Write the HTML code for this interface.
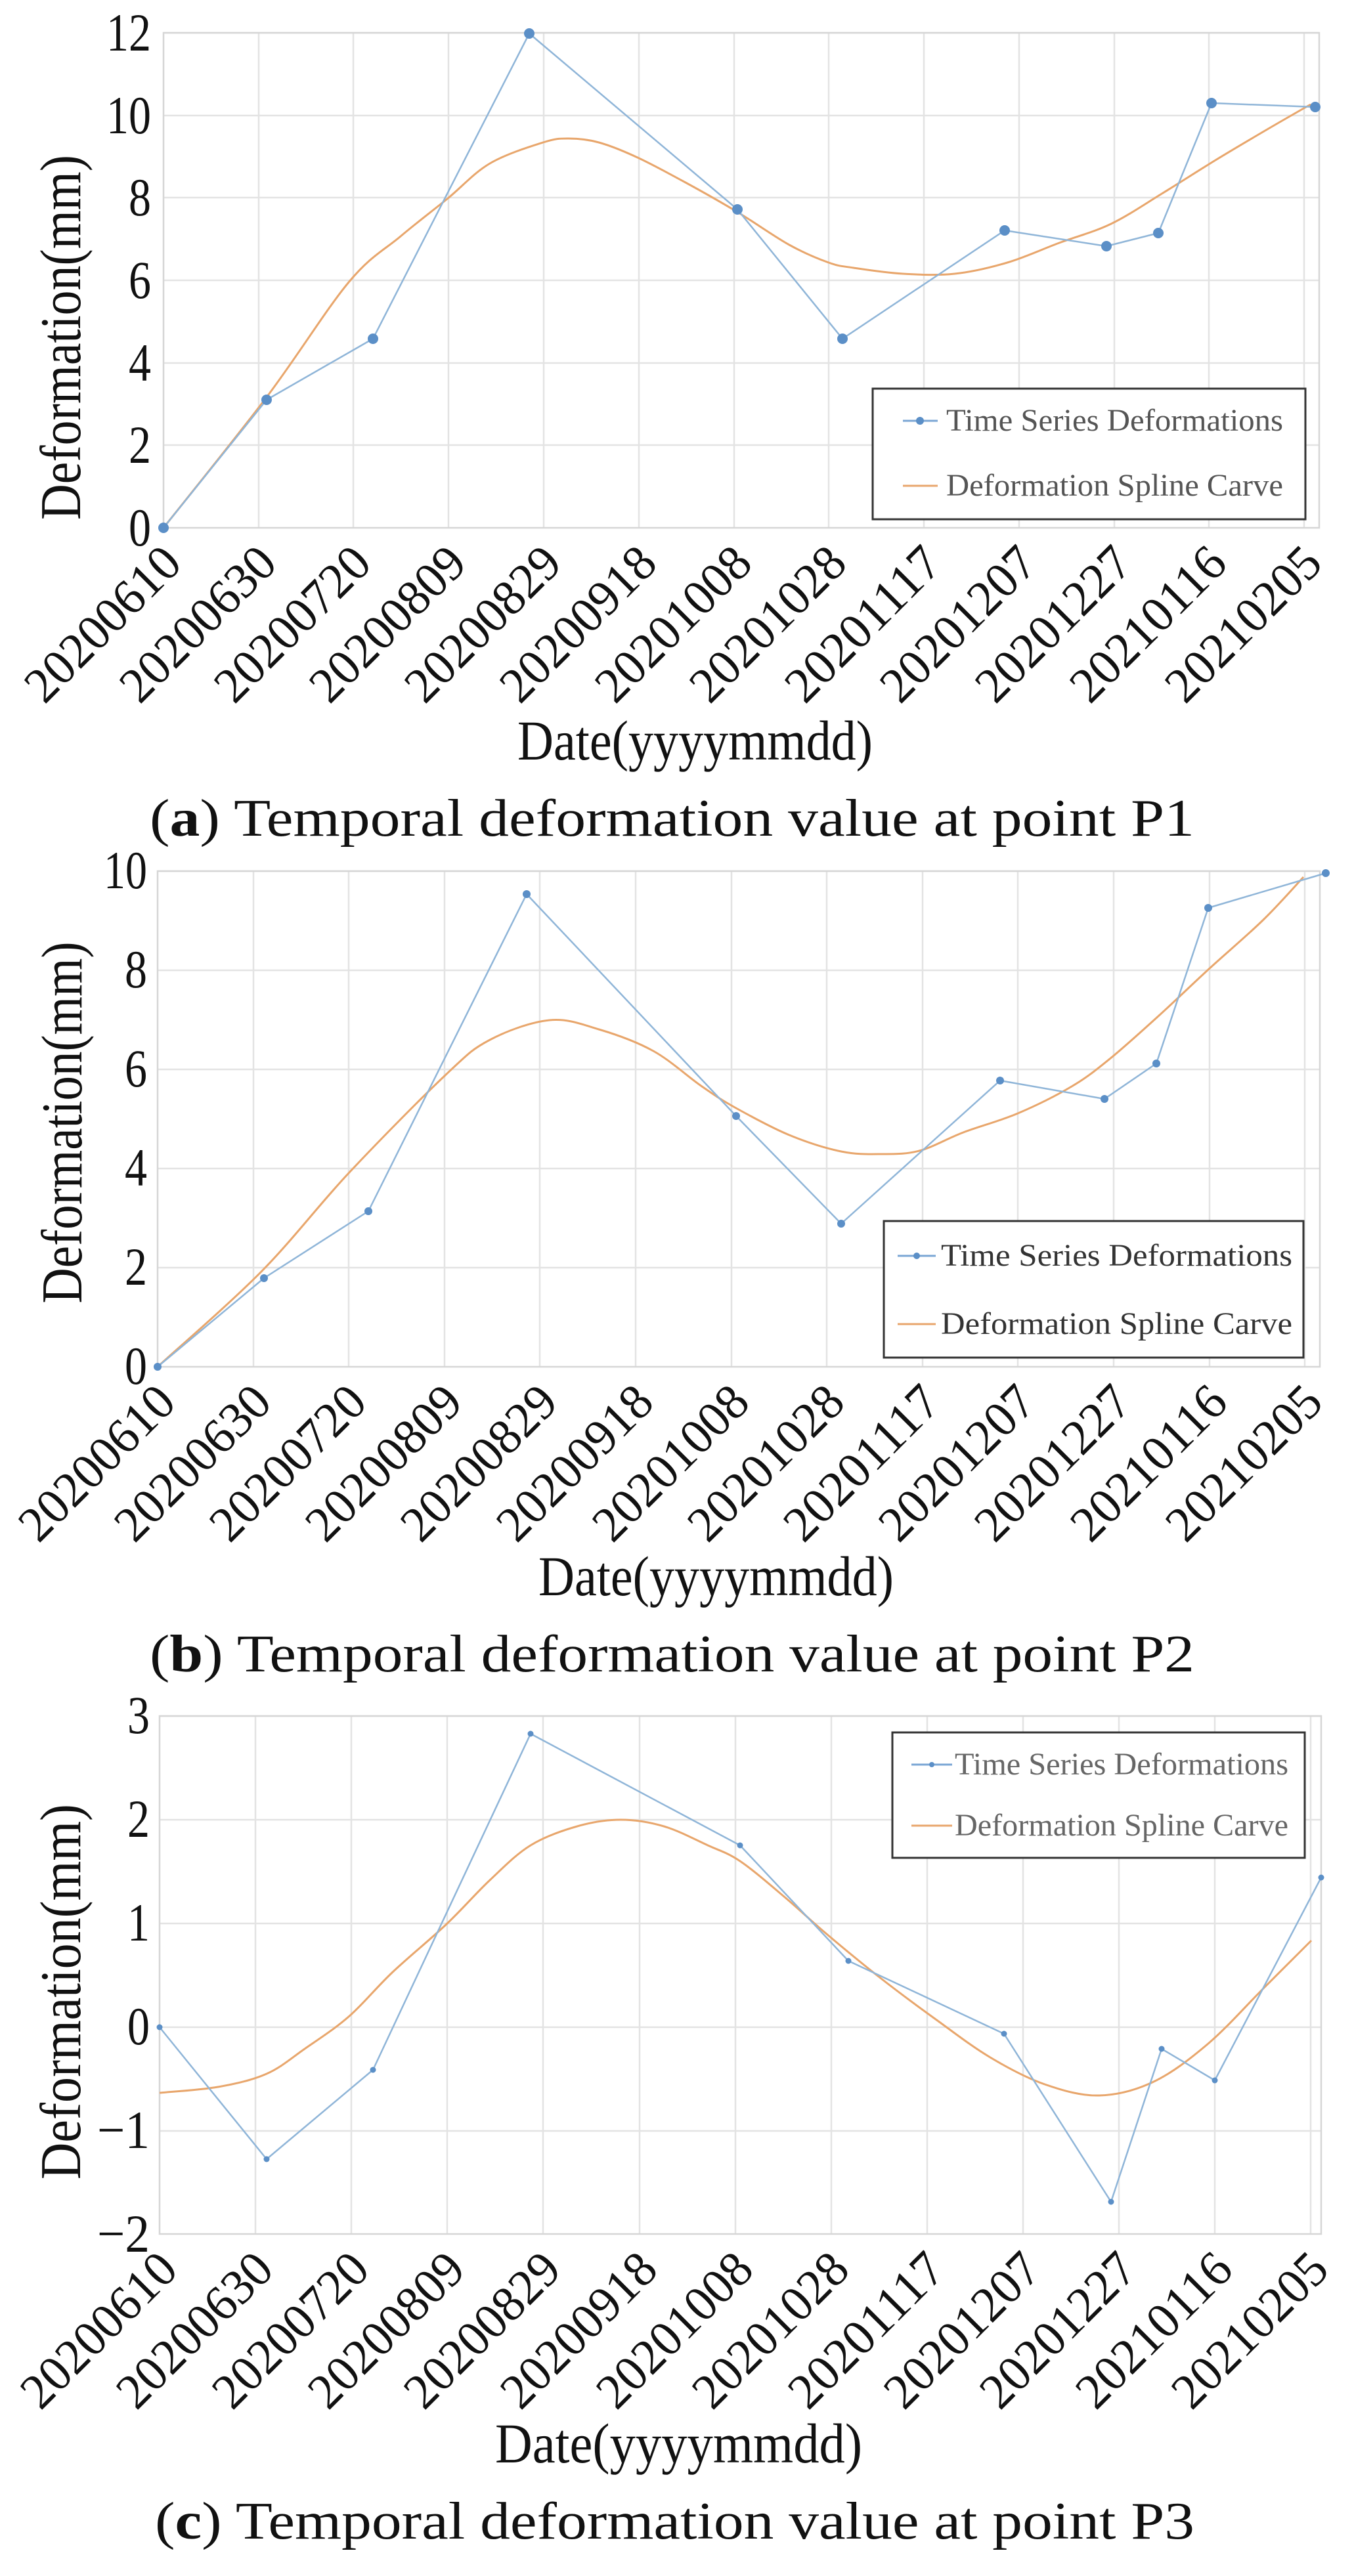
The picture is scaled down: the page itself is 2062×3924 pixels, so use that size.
<!DOCTYPE html>
<html><head><meta charset="utf-8"><style>
html,body{margin:0;padding:0;background:#fff;}
svg{display:block;}
text{font-family:"Liberation Serif",serif;fill:#111;}
.g{stroke:#e3e3e3;stroke-width:2.5;fill:none;}
.b{stroke:#d6d6d6;stroke-width:2.5;fill:none;}
.ts{stroke:#8fb5d8;stroke-width:2.5;fill:none;stroke-linejoin:round;}
.sp{stroke:#e8a66c;stroke-width:3;fill:none;stroke-linejoin:round;}
.m{fill:#5b8fc7;}
.yl{font-size:82px;text-anchor:end;}
.xl{font-size:76px;text-anchor:end;}
.lg{font-size:48px;fill:#555;}
</style></head><body>
<svg width="2062" height="3924" viewBox="0 0 2062 3924" xmlns="http://www.w3.org/2000/svg">

<!-- ===== Chart A ===== -->
<g>
<path class="g" d="M249 678H2009M249 553H2009M249 427H2009M249 301H2009M249 176H2009M249 50H2009"/>
<path class="g" d="M394 50V804M538 50V804M683 50V804M828 50V804M973 50V804M1118 50V804M1262 50V804M1407 50V804M1552 50V804M1697 50V804M1841 50V804M1986 50V804"/>
<rect class="b" x="249" y="50" width="1760" height="754"/>
<path class="sp" d="M249 804 L406 605 L531 430 L610 360 L681 303 L746 249 L827 217 L866 211 L912 217 L971 240 L1044 278 L1123 323 L1202 373 L1262 400 L1300 408 L1375 417 L1454 417 L1534 400 L1613 370 L1692 341 L1771 294 L1851 244 L1930 197 L1996 159"/>
<polyline class="ts" points="249,804 406,609 568,516 806,51 1123,319 1283,516 1530,351 1685,375 1764,355 1845,157 2003,163"/>
<g class="m"><circle cx="249" cy="804" r="8"/><circle cx="406" cy="609" r="8"/><circle cx="568" cy="516" r="8"/><circle cx="806" cy="51" r="8"/><circle cx="1123" cy="319" r="8"/><circle cx="1283" cy="516" r="8"/><circle cx="1530" cy="351" r="8"/><circle cx="1685" cy="375" r="8"/><circle cx="1764" cy="355" r="8"/><circle cx="1845" cy="157" r="8"/><circle cx="2003" cy="163" r="8"/></g>
<rect x="1329" y="592" width="659" height="199" fill="#fff" stroke="#333" stroke-width="3"/>
<line x1="1375" y1="641" x2="1428" y2="641" stroke="#7aa6d4" stroke-width="3"/><circle cx="1401" cy="641" r="6" class="m"/>
<line x1="1375" y1="740" x2="1428" y2="740" stroke="#e8a66c" stroke-width="3"/>
<text class="lg" x="1441" y="656" textLength="513" lengthAdjust="spacingAndGlyphs">Time Series Deformations</text>
<text class="lg" x="1441" y="755" textLength="513" lengthAdjust="spacingAndGlyphs">Deformation Spline Carve</text>
<text class="yl" x="230" y="831" textLength="34" lengthAdjust="spacingAndGlyphs">0</text>
<text class="yl" x="230" y="705" textLength="34" lengthAdjust="spacingAndGlyphs">2</text>
<text class="yl" x="230" y="580" textLength="34" lengthAdjust="spacingAndGlyphs">4</text>
<text class="yl" x="230" y="454" textLength="34" lengthAdjust="spacingAndGlyphs">6</text>
<text class="yl" x="230" y="328" textLength="34" lengthAdjust="spacingAndGlyphs">8</text>
<text class="yl" x="230" y="203" textLength="68" lengthAdjust="spacingAndGlyphs">10</text>
<text class="yl" x="230" y="77" textLength="68" lengthAdjust="spacingAndGlyphs">12</text>
<text x="122" y="514" transform="rotate(-90 122 514)" text-anchor="middle" font-size="88" textLength="556" lengthAdjust="spacingAndGlyphs">Deformation(mm)</text>
<g class="xl">
<text transform="translate(280,862) rotate(-45)" textLength="300" lengthAdjust="spacingAndGlyphs">20200610</text>
<text transform="translate(425,862) rotate(-45)" textLength="300" lengthAdjust="spacingAndGlyphs">20200630</text>
<text transform="translate(569,862) rotate(-45)" textLength="300" lengthAdjust="spacingAndGlyphs">20200720</text>
<text transform="translate(714,862) rotate(-45)" textLength="300" lengthAdjust="spacingAndGlyphs">20200809</text>
<text transform="translate(859,862) rotate(-45)" textLength="300" lengthAdjust="spacingAndGlyphs">20200829</text>
<text transform="translate(1004,862) rotate(-45)" textLength="300" lengthAdjust="spacingAndGlyphs">20200918</text>
<text transform="translate(1149,862) rotate(-45)" textLength="300" lengthAdjust="spacingAndGlyphs">20201008</text>
<text transform="translate(1293,862) rotate(-45)" textLength="300" lengthAdjust="spacingAndGlyphs">20201028</text>
<text transform="translate(1438,862) rotate(-45)" textLength="300" lengthAdjust="spacingAndGlyphs">20201117</text>
<text transform="translate(1583,862) rotate(-45)" textLength="300" lengthAdjust="spacingAndGlyphs">20201207</text>
<text transform="translate(1728,862) rotate(-45)" textLength="300" lengthAdjust="spacingAndGlyphs">20201227</text>
<text transform="translate(1872,862) rotate(-45)" textLength="300" lengthAdjust="spacingAndGlyphs">20210116</text>
<text transform="translate(2017,862) rotate(-45)" textLength="300" lengthAdjust="spacingAndGlyphs">20210205</text>
</g>
<text x="788" y="1157" font-size="86" textLength="541" lengthAdjust="spacingAndGlyphs">Date(yyyymmdd)</text>
<text x="228" y="1273" font-size="80" textLength="1591" lengthAdjust="spacingAndGlyphs">(<tspan font-weight="bold">a</tspan>) Temporal deformation value at point P1</text>
</g>

<!-- ===== Chart B ===== -->
<g>
<path class="g" d="M240 1931H2010M240 1780H2010M240 1629H2010M240 1478H2010M240 1327H2010"/>
<path class="g" d="M386 1327V2082M531 1327V2082M677 1327V2082M822 1327V2082M968 1327V2082M1114 1327V2082M1259 1327V2082M1405 1327V2082M1550 1327V2082M1696 1327V2082M1842 1327V2082M1987 1327V2082"/>
<rect class="b" x="240" y="1327" width="1770" height="755"/>
<path class="sp" d="M240 2082 L398 1937 L531 1787 L678 1638 L746 1584 L837 1554 L912 1568 L995 1601 L1069 1655 L1121 1688 L1202 1729 L1281 1754 L1342 1758 L1400 1753 L1467 1725 L1550 1696 L1632 1655 L1690 1613 L1765 1547 L1840 1477 L1923 1402 L1985 1336"/>
<polyline class="ts" points="240,2082 402,1947 561,1845 802,1362 1121,1700 1281,1864 1523,1646 1682,1674 1761,1620 1840,1383 2019,1330"/>
<g class="m"><circle cx="240" cy="2082" r="6"/><circle cx="402" cy="1947" r="6"/><circle cx="561" cy="1845" r="6"/><circle cx="802" cy="1362" r="6"/><circle cx="1121" cy="1700" r="6"/><circle cx="1281" cy="1864" r="6"/><circle cx="1523" cy="1646" r="6"/><circle cx="1682" cy="1674" r="6"/><circle cx="1761" cy="1620" r="6"/><circle cx="1840" cy="1383" r="6"/><circle cx="2019" cy="1330" r="6"/></g>
<rect x="1346" y="1860" width="639" height="208" fill="#fff" stroke="#333" stroke-width="3"/>
<line x1="1367" y1="1913" x2="1425" y2="1913" stroke="#7aa6d4" stroke-width="3"/><circle cx="1396" cy="1913" r="5" class="m"/>
<line x1="1367" y1="2017" x2="1425" y2="2017" stroke="#e8a66c" stroke-width="3"/>
<text class="lg" style="fill:#333" x="1433" y="1928" textLength="535" lengthAdjust="spacingAndGlyphs">Time Series Deformations</text>
<text class="lg" style="fill:#333" x="1433" y="2032" textLength="535" lengthAdjust="spacingAndGlyphs">Deformation Spline Carve</text>
<text class="yl" x="224" y="2108" textLength="34" lengthAdjust="spacingAndGlyphs">0</text>
<text class="yl" x="224" y="1957" textLength="34" lengthAdjust="spacingAndGlyphs">2</text>
<text class="yl" x="224" y="1806" textLength="34" lengthAdjust="spacingAndGlyphs">4</text>
<text class="yl" x="224" y="1655" textLength="34" lengthAdjust="spacingAndGlyphs">6</text>
<text class="yl" x="224" y="1504" textLength="34" lengthAdjust="spacingAndGlyphs">8</text>
<text class="yl" x="224" y="1353" textLength="66" lengthAdjust="spacingAndGlyphs">10</text>
<text x="124" y="1710" transform="rotate(-90 124 1710)" text-anchor="middle" font-size="88" textLength="551" lengthAdjust="spacingAndGlyphs">Deformation(mm)</text>
<g class="xl">
<text transform="translate(271,2140) rotate(-45)" textLength="300" lengthAdjust="spacingAndGlyphs">20200610</text>
<text transform="translate(417,2140) rotate(-45)" textLength="300" lengthAdjust="spacingAndGlyphs">20200630</text>
<text transform="translate(562,2140) rotate(-45)" textLength="300" lengthAdjust="spacingAndGlyphs">20200720</text>
<text transform="translate(708,2140) rotate(-45)" textLength="300" lengthAdjust="spacingAndGlyphs">20200809</text>
<text transform="translate(853,2140) rotate(-45)" textLength="300" lengthAdjust="spacingAndGlyphs">20200829</text>
<text transform="translate(999,2140) rotate(-45)" textLength="300" lengthAdjust="spacingAndGlyphs">20200918</text>
<text transform="translate(1145,2140) rotate(-45)" textLength="300" lengthAdjust="spacingAndGlyphs">20201008</text>
<text transform="translate(1290,2140) rotate(-45)" textLength="300" lengthAdjust="spacingAndGlyphs">20201028</text>
<text transform="translate(1436,2140) rotate(-45)" textLength="300" lengthAdjust="spacingAndGlyphs">20201117</text>
<text transform="translate(1581,2140) rotate(-45)" textLength="300" lengthAdjust="spacingAndGlyphs">20201207</text>
<text transform="translate(1727,2140) rotate(-45)" textLength="300" lengthAdjust="spacingAndGlyphs">20201227</text>
<text transform="translate(1873,2140) rotate(-45)" textLength="300" lengthAdjust="spacingAndGlyphs">20210116</text>
<text transform="translate(2018,2140) rotate(-45)" textLength="300" lengthAdjust="spacingAndGlyphs">20210205</text>
</g>
<text x="820" y="2430" font-size="86" textLength="541" lengthAdjust="spacingAndGlyphs">Date(yyyymmdd)</text>
<text x="228" y="2546" font-size="80" textLength="1591" lengthAdjust="spacingAndGlyphs">(<tspan font-weight="bold">b</tspan>) Temporal deformation value at point P2</text>
</g>

<!-- ===== Chart C ===== -->
<g>
<path class="g" d="M243 3246H2012M243 3088H2012M243 2930H2012M243 2772H2012M243 2614H2012"/>
<path class="g" d="M389 2614V3403M535 2614V3403M681 2614V3403M827 2614V3403M974 2614V3403M1120 2614V3403M1266 2614V3403M1412 2614V3403M1558 2614V3403M1704 2614V3403M1850 2614V3403M1996 2614V3403"/>
<rect class="b" x="243" y="2614" width="1769" height="789"/>
<path class="sp" d="M243 3188 L332 3179 L406 3159 L464 3121 L531 3072 L597 3005 L680 2931 L746 2864 L808 2811 L879 2782 L945 2772 L1011 2782 L1078 2811 L1127 2835 L1194 2889 L1260 2947 L1342 3014 L1425 3076 L1508 3134 L1591 3175 L1674 3192 L1757 3171 L1840 3113 L1923 3030 L1997 2956"/>
<polyline class="ts" points="243,3088 406,3289 568,3153 808,2641 1127,2811 1292,2987 1529,3098 1692,3354 1769,3121 1850,3169 2012,2860"/>
<g class="m"><circle cx="243" cy="3088" r="4.5"/><circle cx="406" cy="3289" r="4.5"/><circle cx="568" cy="3153" r="4.5"/><circle cx="808" cy="2641" r="4.5"/><circle cx="1127" cy="2811" r="4.5"/><circle cx="1292" cy="2987" r="4.5"/><circle cx="1529" cy="3098" r="4.5"/><circle cx="1692" cy="3354" r="4.5"/><circle cx="1769" cy="3121" r="4.5"/><circle cx="1850" cy="3169" r="4.5"/><circle cx="2012" cy="2860" r="4.5"/></g>
<rect x="1359" y="2639" width="628" height="191" fill="#fff" stroke="#333" stroke-width="3"/>
<line x1="1388" y1="2688" x2="1450" y2="2688" stroke="#7aa6d4" stroke-width="3"/><circle cx="1419" cy="2688" r="4" class="m"/>
<line x1="1388" y1="2781" x2="1450" y2="2781" stroke="#e8a66c" stroke-width="3"/>
<text class="lg" style="fill:#666" x="1454" y="2703" textLength="508" lengthAdjust="spacingAndGlyphs">Time Series Deformations</text>
<text class="lg" style="fill:#666" x="1454" y="2796" textLength="508" lengthAdjust="spacingAndGlyphs">Deformation Spline Carve</text>
<text class="yl" x="228" y="3430" textLength="80" lengthAdjust="spacingAndGlyphs">−2</text>
<text class="yl" x="228" y="3272" textLength="80" lengthAdjust="spacingAndGlyphs">−1</text>
<text class="yl" x="228" y="3114" textLength="34" lengthAdjust="spacingAndGlyphs">0</text>
<text class="yl" x="228" y="2956" textLength="34" lengthAdjust="spacingAndGlyphs">1</text>
<text class="yl" x="228" y="2798" textLength="34" lengthAdjust="spacingAndGlyphs">2</text>
<text class="yl" x="228" y="2640" textLength="34" lengthAdjust="spacingAndGlyphs">3</text>
<text x="122" y="3034" transform="rotate(-90 122 3034)" text-anchor="middle" font-size="88" textLength="572" lengthAdjust="spacingAndGlyphs">Deformation(mm)</text>
<g class="xl">
<text transform="translate(274,3461) rotate(-45)" textLength="300" lengthAdjust="spacingAndGlyphs">20200610</text>
<text transform="translate(420,3461) rotate(-45)" textLength="300" lengthAdjust="spacingAndGlyphs">20200630</text>
<text transform="translate(566,3461) rotate(-45)" textLength="300" lengthAdjust="spacingAndGlyphs">20200720</text>
<text transform="translate(712,3461) rotate(-45)" textLength="300" lengthAdjust="spacingAndGlyphs">20200809</text>
<text transform="translate(858,3461) rotate(-45)" textLength="300" lengthAdjust="spacingAndGlyphs">20200829</text>
<text transform="translate(1005,3461) rotate(-45)" textLength="300" lengthAdjust="spacingAndGlyphs">20200918</text>
<text transform="translate(1151,3461) rotate(-45)" textLength="300" lengthAdjust="spacingAndGlyphs">20201008</text>
<text transform="translate(1297,3461) rotate(-45)" textLength="300" lengthAdjust="spacingAndGlyphs">20201028</text>
<text transform="translate(1443,3461) rotate(-45)" textLength="300" lengthAdjust="spacingAndGlyphs">20201117</text>
<text transform="translate(1589,3461) rotate(-45)" textLength="300" lengthAdjust="spacingAndGlyphs">20201207</text>
<text transform="translate(1735,3461) rotate(-45)" textLength="300" lengthAdjust="spacingAndGlyphs">20201227</text>
<text transform="translate(1881,3461) rotate(-45)" textLength="300" lengthAdjust="spacingAndGlyphs">20210116</text>
<text transform="translate(2027,3461) rotate(-45)" textLength="300" lengthAdjust="spacingAndGlyphs">20210205</text>
</g>
<text x="754" y="3751" font-size="86" textLength="559" lengthAdjust="spacingAndGlyphs">Date(yyyymmdd)</text>
<text x="236" y="3867" font-size="80" textLength="1583" lengthAdjust="spacingAndGlyphs">(<tspan font-weight="bold">c</tspan>) Temporal deformation value at point P3</text>
</g>
</svg>
<script>
(function(){
  var ps=document.querySelectorAll('path.sp');
  for(var k=0;k<ps.length;k++){
    var d=ps[k].getAttribute('d');
    var nums=d.match(/-?\d+(\.\d+)?/g).map(Number);
    var p=[];for(var i=0;i<nums.length;i+=2)p.push([nums[i],nums[i+1]]);
    var s='M'+p[0][0]+' '+p[0][1];
    for(var i=0;i<p.length-1;i++){
      var p0=p[i-1]||p[i],p1=p[i],p2=p[i+1],p3=p[i+2]||p2;
      var c1x=p1[0]+(p2[0]-p0[0])/6,c1y=p1[1]+(p2[1]-p0[1])/6;
      var c2x=p2[0]-(p3[0]-p1[0])/6,c2y=p2[1]-(p3[1]-p1[1])/6;
      s+=' C'+c1x.toFixed(1)+' '+c1y.toFixed(1)+' '+c2x.toFixed(1)+' '+c2y.toFixed(1)+' '+p2[0]+' '+p2[1];
    }
    ps[k].setAttribute('d',s);
  }
})();
</script>
</body></html>
